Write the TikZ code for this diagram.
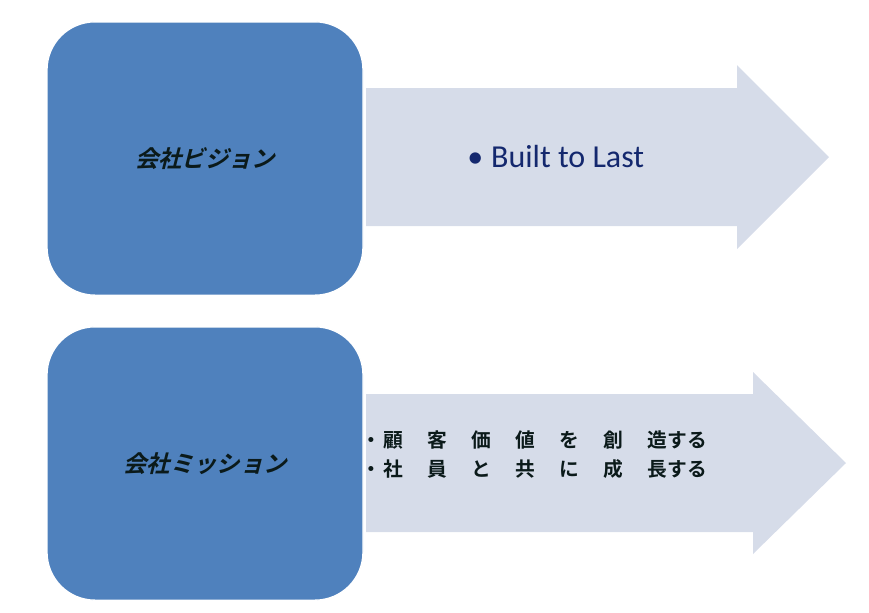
\documentclass[tikz,border=0pt]{standalone}
\usepackage{fontspec}
\setmainfont{Carlito}
\newfontfamily\jpfont{Noto Sans CJK JP}
\newfontfamily\jpbold{Noto Sans CJK JP Bold}
\newfontfamily\jpslant[FakeSlant=0.25]{Noto Sans CJK JP Bold}
\usetikzlibrary{positioning}

\definecolor{boxblue}{HTML}{4F81BD}
\definecolor{arrowgray}{HTML}{D6DCE9}
\definecolor{textnavy}{HTML}{14286E}
\definecolor{textdark}{HTML}{0B1A1A}

\newcommand{\jgap}{\hspace{18.2pt}}

\begin{document}
\begin{tikzpicture}[
    x=0.75pt, y=-0.75pt,
    bluebox/.style={fill=boxblue, draw=white, line width=1pt, rounded corners=36pt,
        minimum width=237pt, minimum height=205pt, inner sep=0pt}, % Style for the left boxes
    boxtext/.style={text=textdark, font=\jpslant\fontsize{17.5}{20}\selectfont},
    arrowfill/.style={fill=arrowgray} % Style for the big arrows
]
\useasboundingbox (0,0) rectangle (869,612);

% Arrows (drawn first, behind the boxes)
\fill[arrowfill] (366,88) -- (737,88) -- (737,65) -- (829,157) -- (737,249)
    -- (737,226) -- (366,226) -- cycle;
\fill[arrowfill] (366,394) -- (753,394) -- (753,372) -- (846,463) -- (753,554)
    -- (753,532) -- (366,532) -- cycle;

% Left boxes
\node[bluebox] (vision) at (205,158.5) {};
\node[bluebox] (mission) at (205,463.5) {};
\node[boxtext] (visionlabel) at (vision) {会社ビジョン};
\node[boxtext] (missionlabel) at (mission) {会社ミッション};

% Arrow texts
\node[anchor=west, text=textnavy, font=\fontsize{24}{28}\selectfont, inner sep=0pt]
    (visiontext) at (467,157) {\textbullet\hspace{6pt}Built to Last};
\node[anchor=west, align=left, text=textdark, inner sep=0pt,
    font=\jpbold\fontsize{14.8}{21.75}\selectfont]
    (missiontext) at (361,455)
    {・\hspace{2pt}顧\jgap 客\jgap 価\jgap 値\jgap を\jgap 創\jgap 造する\\
     ・\hspace{2pt}社\jgap 員\jgap と\jgap 共\jgap に\jgap 成\jgap 長する};

\end{tikzpicture}
\end{document}
